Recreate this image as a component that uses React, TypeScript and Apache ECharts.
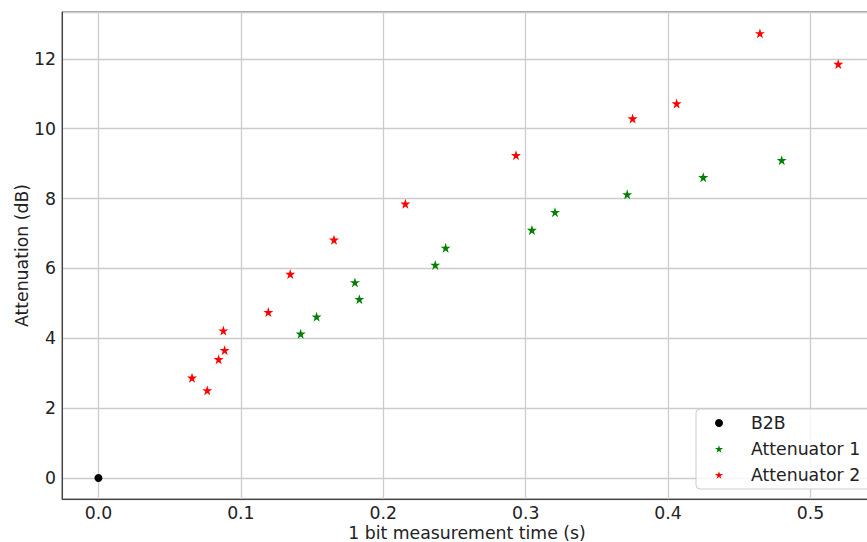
import React, { useEffect, useRef } from "react";
import * as echarts from "echarts";

const b2bTime = [0.0];
const b2bAtt = [0.0];

const att1Time = [0.142, 0.1532, 0.1801, 0.1832, 0.2365, 0.2438, 0.3044, 0.3206, 0.3713, 0.4247, 0.4798];
const att1Att = [4.13, 4.62, 5.6, 5.12, 6.1, 6.59, 7.1, 7.61, 8.12, 8.61, 9.1];

const att2Time = [0.0657, 0.0764, 0.0844, 0.0886, 0.0877, 0.1193, 0.1347, 0.1654, 0.2155, 0.2932, 0.3751, 0.406, 0.4645, 0.5195];
const att2Att = [2.87, 2.51, 3.4, 3.66, 4.22, 4.75, 5.84, 6.82, 7.85, 9.24, 10.29, 10.72, 12.73, 11.85];

const seriesNames = ["B2B", "Attenuator 1", "Attenuator 2"];
const xAxisTitle = "1 bit measurement time (s)";
const yAxisTitle = "Attenuation (dB)";

const STAR =
  "path://M100,0 L122.45,69.1 L195.11,69.1 L136.33,111.8 L158.78,180.9 L100,138.2 L41.22,180.9 L63.67,111.8 L4.89,69.1 L77.55,69.1 Z";

const zip = (xs: number[], ys: number[]) => xs.map((x, i) => [x, ys[i]]);

export default function App() {
  const ref = useRef<HTMLDivElement>(null);
  useEffect(() => {
    if (!ref.current) return;
    const chart = echarts.init(ref.current, undefined, { renderer: "svg" });
    const font = "DejaVu Sans";
    const fs = 17.3;
    const spine = "#444444";
    chart.setOption({
      animation: false,
      backgroundColor: "#ffffff",
      grid: {
        left: 62,
        top: 12,
        bottom: 43,
        right: -5,
        containLabel: false,
        outerBoundsMode: "none",
        show: true,
        borderColor: spine,
        borderWidth: 1,
        backgroundColor: "transparent",
      },
      xAxis: {
        type: "value",
        min: -0.0256,
        max: 0.5432,
        splitNumber: 5,
        minInterval: 0.1,
        maxInterval: 0.1,
        name: xAxisTitle,
        nameLocation: "middle",
        nameGap: 25,
        nameMoveOverlap: false,
        nameTextStyle: { fontFamily: font, fontSize: fs, color: "#222", lineHeight: 17 },
        axisLine: { show: true, onZero: false, lineStyle: { color: spine, width: 1 } },
        axisTick: { show: false },
        axisLabel: {
          fontFamily: font,
          fontSize: fs,
          color: "#222",
          margin: 5,
          showMinLabel: false,
          showMaxLabel: false,
          formatter: (v: number) => v.toFixed(1),
        },
        splitLine: { show: true, lineStyle: { color: "#cccccc", width: 1.3 } },
      },
      yAxis: {
        type: "value",
        min: -0.6,
        max: 13.34,
        splitNumber: 7,
        minInterval: 2,
        maxInterval: 2,
        name: yAxisTitle,
        nameLocation: "middle",
        nameGap: 32,
        nameMoveOverlap: false,
        nameRotate: 90,
        nameTextStyle: { fontFamily: font, fontSize: fs, color: "#222", lineHeight: 17 },
        axisLine: { show: true, onZero: false, lineStyle: { color: spine, width: 1 } },
        axisTick: { show: false },
        axisLabel: {
          fontFamily: font,
          fontSize: fs,
          color: "#222",
          margin: 6,
          showMinLabel: false,
          showMaxLabel: false,
          formatter: (v: number) => String(Math.round(v)),
        },
        splitLine: { show: true, lineStyle: { color: "#cccccc", width: 1.3 } },
      },
      legend: {
        orient: "vertical",
        left: 696,
        top: 409,
        padding: [5, 20, 5, 19],
        itemWidth: 8,
        itemHeight: 8,
        itemGap: 8,
        backgroundColor: "rgba(255,255,255,0.8)",
        borderColor: "#cccccc",
        borderWidth: 1,
        borderRadius: 4,
        textStyle: {
          fontFamily: font,
          fontSize: fs,
          color: "#222",
          lineHeight: 18,
          padding: [0, 0, 0, 23],
        },
        data: seriesNames,
      },
      series: [
        {
          name: seriesNames[0],
          type: "scatter",
          symbol: "circle",
          symbolSize: 8,
          itemStyle: { color: "#000000", opacity: 1 },
          data: zip(b2bTime, b2bAtt),
          z: 3,
        },
        {
          name: seriesNames[1],
          type: "scatter",
          symbol: STAR,
          symbolSize: [10, 10],
          itemStyle: { color: "#008000", opacity: 1 },
          data: zip(att1Time, att1Att),
          z: 3,
        },
        {
          name: seriesNames[2],
          type: "scatter",
          symbol: STAR,
          symbolSize: [10, 10],
          itemStyle: { color: "#ff0000", opacity: 1 },
          data: zip(att2Time, att2Att),
          z: 3,
        },
      ],
    });
    return () => chart.dispose();
  }, []);
  return (
    <div
      ref={ref}
      style={{ position: "fixed", left: 0, top: 0, width: 867, height: 542, background: "#fff" }}
    />
  );
}
